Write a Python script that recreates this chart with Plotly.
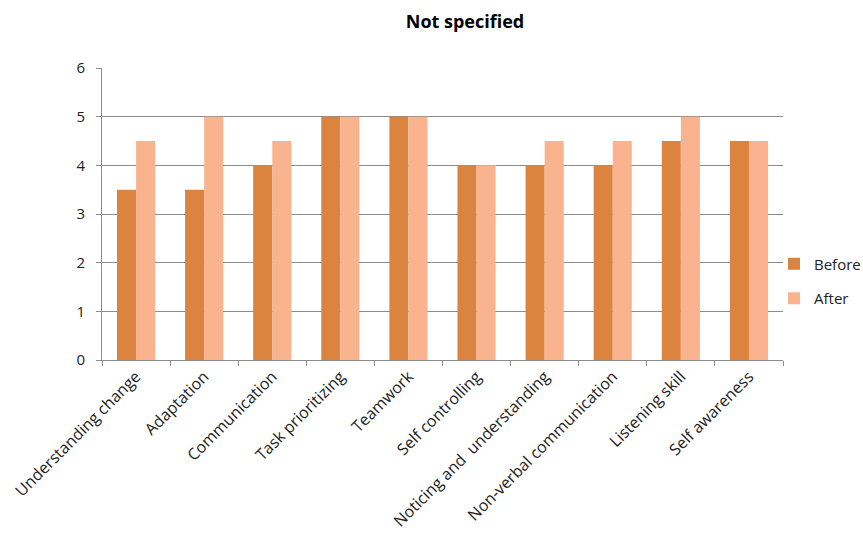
import plotly.graph_objects as go

categories = ["Understanding change", "Adaptation", "Communication", "Task prioritizing",
              "Teamwork", "Self controlling", "Noticing and  understanding",
              "Non-verbal communication", "Listening skill", "Self awareness"]
before = [3.5, 3.5, 4, 5, 5, 4, 4, 4, 4.5, 4.5]
after = [4.5, 5, 4.5, 5, 5, 4, 4.5, 4.5, 5, 4.5]

FONT = "Open Sans"

fig = go.Figure()
fig.add_trace(go.Bar(x=categories, y=before, name="Before", marker_color="#DA843F",
                     marker_line_width=0, legendgroup="b"))
fig.add_trace(go.Bar(x=categories, y=after, name="After", marker_color="#F9B48F",
                     marker_line_width=0, legendgroup="a"))

fig.update_layout(
    width=863, height=535,
    margin=dict(l=102, r=80, t=68, b=175, autoexpand=False),
    paper_bgcolor="white", plot_bgcolor="white",
    barmode="group", bargap=0.44, bargroupgap=0,
    font=dict(family=FONT, size=15, color="#222222"),
    title=dict(text="<b>Not specified</b>", x=465 / 863, xref="container", xanchor="center",
               y=1 - 22 / 535, yref="container", yanchor="middle",
               font=dict(family=FONT, size=18, color="black")),
    legend=dict(x=774 / 863, xref="container", xanchor="left",
                y=1 - 281 / 535, yref="container", yanchor="middle",
                font=dict(family=FONT, size=15, color="#222222"),
                itemsizing="constant", tracegroupgap=12, bgcolor="rgba(0,0,0,0)",
                itemwidth=30),
    showlegend=True,
)
fig.update_xaxes(type="category", tickangle=-45, showline=True, linecolor="#8C8C8C",
                 linewidth=1, ticks="outside", ticklen=5, tickcolor="#8C8C8C",
                 tickson="boundaries", showgrid=False, automargin=False,
                 tickfont=dict(family=FONT, size=16, color="#222222"))
fig.update_yaxes(range=[0, 6], dtick=1, showline=True, linecolor="#8C8C8C", linewidth=1,
                 ticks="outside", ticklen=5, tickcolor="#8C8C8C", showgrid=True,
                 gridcolor="#8C8C8C", gridwidth=1, zeroline=False, automargin=False,
                 ticklabelstandoff=8,
                 tickfont=dict(family=FONT, size=15, color="#222222"))

fig.write_html("out.html")
